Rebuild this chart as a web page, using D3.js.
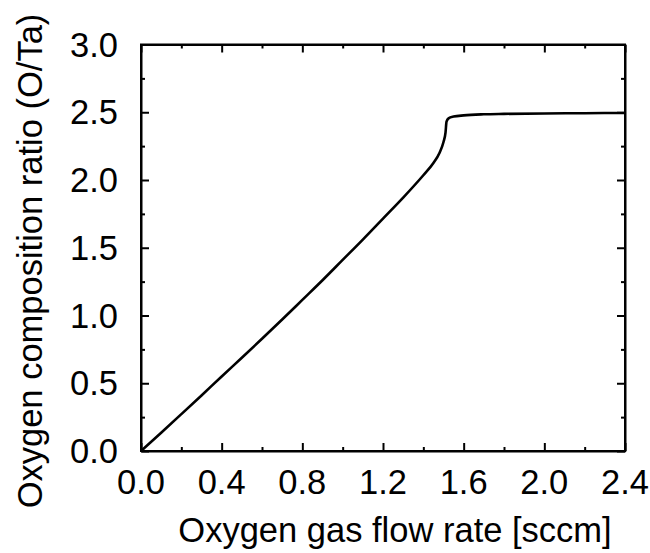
<!DOCTYPE html>
<html><head><meta charset="utf-8">
<script src="https://cdn.jsdelivr.net/npm/d3@7"></script>
<style>body{margin:0;background:#fff}svg{display:block}text{font-family:"Liberation Sans",Arial,sans-serif;fill:#000}</style>
</head><body>
<svg id="c" width="650" height="553"></svg>
<script>
const flowRate = [0,0.1,0.2,0.3,0.4,0.5,0.6,0.7,0.8,0.9,1.0,1.1,1.2,1.3,1.4,1.45,1.48,1.5,1.51,1.515,1.525,1.55,1.6,1.7,1.8,2.0,2.2,2.4];
const ratio    = [0,0.135,0.272,0.41,0.55,0.688,0.828,0.97,1.115,1.26,1.41,1.56,1.715,1.87,2.035,2.125,2.2,2.28,2.35,2.43,2.455,2.468,2.477,2.485,2.488,2.491,2.493,2.495];
const xTicks = [0,0.4,0.8,1.2,1.6,2.0,2.4];
const yTicks = [0,0.5,1.0,1.5,2.0,2.5,3.0];
const xMinor = [0.2,0.6,1.0,1.4,1.8,2.2];
const yMinor = [0.25,0.75,1.25,1.75,2.25,2.75];

const L=141,R=625,T=44.5,B=451;
const svg=d3.select("#c");
const x=d3.scaleLinear().domain([0,2.4]).range([L,R]);
const y=d3.scaleLinear().domain([0,3]).range([B,T]);
const fs=34.5;

function ax(gen, tr, vals, size){
  const g=svg.append("g").attr("transform",tr)
    .call(gen.tickValues(vals).tickSizeInner(size).tickSizeOuter(0).tickFormat(""));
  g.select(".domain").attr("stroke","#000").attr("stroke-width",2);
  g.selectAll(".tick line").attr("stroke","#000").attr("stroke-width",2);
  return g;
}
ax(d3.axisBottom(x),`translate(0,${B})`,xTicks,-8);
ax(d3.axisBottom(x),`translate(0,${B})`,xMinor,-4).select(".domain").remove();
ax(d3.axisTop(x),`translate(0,${T})`,xTicks,-8);
ax(d3.axisTop(x),`translate(0,${T})`,xMinor,-4).select(".domain").remove();
ax(d3.axisLeft(y),`translate(${L},0)`,yTicks,-8);
ax(d3.axisLeft(y),`translate(${L},0)`,yMinor,-4).select(".domain").remove();
ax(d3.axisRight(y),`translate(${R},0)`,yTicks,-8);
ax(d3.axisRight(y),`translate(${R},0)`,yMinor,-4).select(".domain").remove();

svg.append("g").selectAll("text").data(xTicks).join("text")
  .attr("x",d=>x(d)).attr("y",494).attr("text-anchor","middle").attr("font-size",fs)
  .text(d=>d3.format(".1f")(d));
svg.append("g").selectAll("text").data(yTicks).join("text")
  .attr("x",118).attr("y",d=>y(d)+12).attr("text-anchor","end").attr("font-size",fs)
  .text(d=>d3.format(".1f")(d));

svg.append("rect").attr("x",L).attr("y",T).attr("width",R-L).attr("height",B-T)
  .attr("fill","none").attr("stroke","#000").attr("stroke-width",2);

const data=flowRate.map((d,i)=>[d,ratio[i]]);
svg.append("path").datum(data)
  .attr("d",d3.line().x(d=>x(d[0])).y(d=>y(d[1])).curve(d3.curveMonotoneX))
  .attr("fill","none").attr("stroke","#000").attr("stroke-width",2.6);

svg.append("text").attr("x",395).attr("y",542).attr("text-anchor","middle").attr("font-size",fs)
  .text("Oxygen gas flow rate [sccm]");
svg.append("text").attr("transform","translate(42,261) rotate(-90)").attr("text-anchor","middle").attr("font-size",fs)
  .text("Oxygen composition ratio (O/Ta)");
</script>
</body></html>
